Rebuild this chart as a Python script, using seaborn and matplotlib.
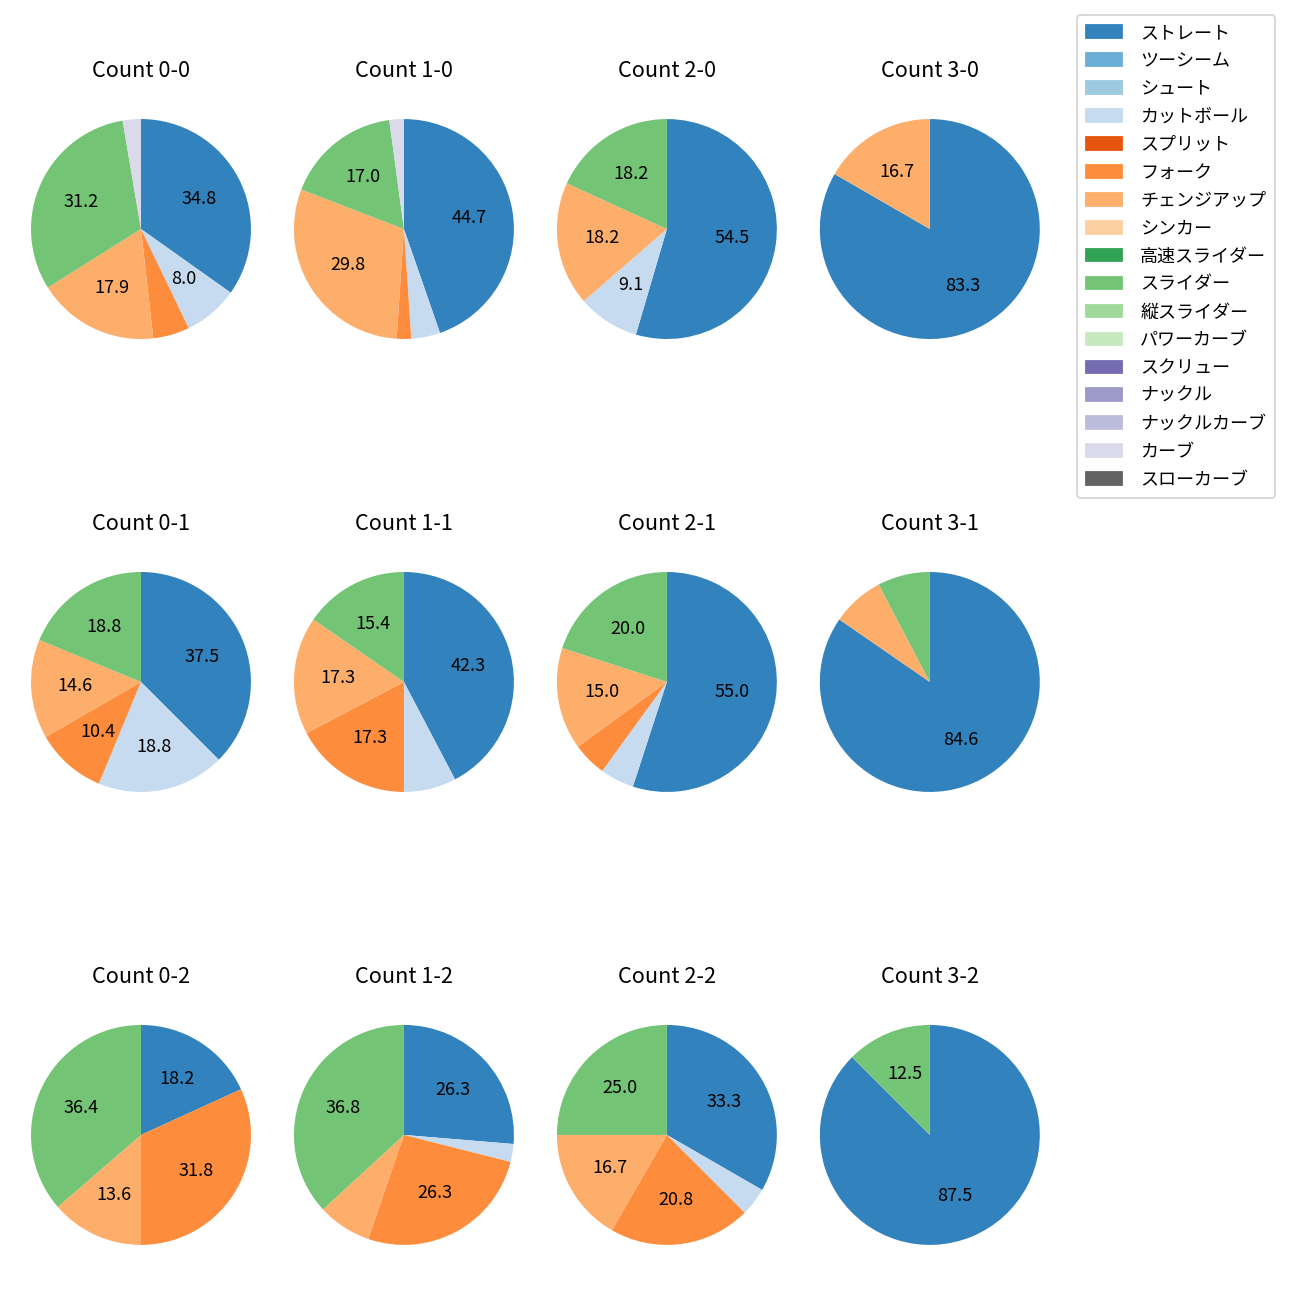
import matplotlib
matplotlib.use("Agg")
import matplotlib.pyplot as plt
import matplotlib.patches as mpatches
import seaborn as sns

plt.rcParams['font.family'] = ['Noto Sans CJK JP', 'DejaVu Sans']

pitch_types = ["ストレート", "ツーシーム", "シュート", "カットボール", "スプリット", "フォーク",
               "チェンジアップ", "シンカー", "高速スライダー", "スライダー", "縦スライダー",
               "パワーカーブ", "スクリュー", "ナックル", "ナックルカーブ", "カーブ", "スローカーブ"]

counts_titles = ["Count 0-0", "Count 1-0", "Count 2-0", "Count 3-0",
                 "Count 0-1", "Count 1-1", "Count 2-1", "Count 3-1",
                 "Count 0-2", "Count 1-2", "Count 2-2", "Count 3-2"]

# pitch counts per count situation: {pitch type: number}
c00 = {"ストレート": 39, "カットボール": 9, "フォーク": 6, "チェンジアップ": 20, "スライダー": 35, "カーブ": 3}
c10 = {"ストレート": 21, "カットボール": 2, "フォーク": 1, "チェンジアップ": 14, "スライダー": 8, "カーブ": 1}
c20 = {"ストレート": 6, "カットボール": 1, "チェンジアップ": 2, "スライダー": 2}
c30 = {"ストレート": 5, "チェンジアップ": 1}
c01 = {"ストレート": 18, "カットボール": 9, "フォーク": 5, "チェンジアップ": 7, "スライダー": 9}
c11 = {"ストレート": 22, "カットボール": 4, "フォーク": 9, "チェンジアップ": 9, "スライダー": 8}
c21 = {"ストレート": 11, "カットボール": 1, "フォーク": 1, "チェンジアップ": 3, "スライダー": 4}
c31 = {"ストレート": 11, "チェンジアップ": 1, "スライダー": 1}
c02 = {"ストレート": 4, "フォーク": 7, "チェンジアップ": 3, "スライダー": 8}
c12 = {"ストレート": 10, "カットボール": 1, "フォーク": 10, "チェンジアップ": 3, "スライダー": 14}
c22 = {"ストレート": 8, "カットボール": 1, "フォーク": 5, "チェンジアップ": 4, "スライダー": 6}
c32 = {"ストレート": 7, "スライダー": 1}

data = [c00, c10, c20, c30, c01, c11, c21, c31, c02, c12, c22, c32]

palette = sns.color_palette("tab20c", 20)
colors = {p: palette[i] for i, p in enumerate(pitch_types)}

fig, axes = plt.subplots(3, 4, figsize=(10, 10), dpi=130)
fig.subplots_adjust(left=0.0027, right=0.821, top=0.9296, bottom=0.0212,
                    wspace=-0.0436, hspace=0.647)

def fmt(pct):
    return f"{pct:.1f}" if pct >= 8 else ""

for ax, title, d in zip(axes.flat, counts_titles, data):
    labels = [p for p in pitch_types if p in d]
    vals = [d[p] for p in labels]
    ax.pie(vals, colors=[colors[p] for p in labels], startangle=90, counterclock=False,
           autopct=fmt, textprops={'fontsize': 10}, wedgeprops={'linewidth': 0})
    ax.set_title(title, fontsize=12, pad=8.2)
    ax.set_aspect('equal')

handles = [mpatches.Patch(color=colors[p], label=p) for p in pitch_types]
fig.legend(handles=handles, loc='upper left', bbox_to_anchor=(1077/1300, 1 - 15/1300),
           borderaxespad=0, fontsize=10, labelspacing=0.55, handletextpad=1.0,
           borderpad=0.5)

fig.savefig("out.png", dpi=130)
